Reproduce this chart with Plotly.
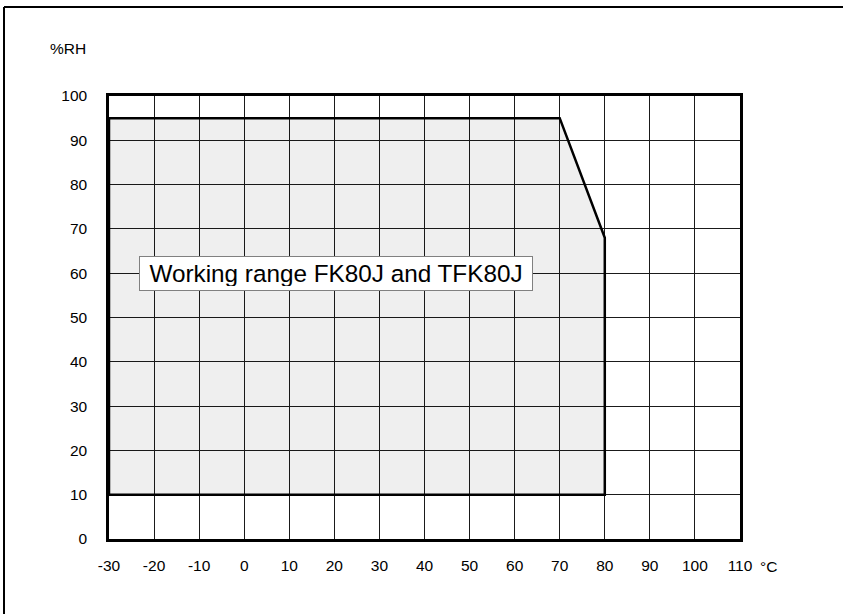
import plotly.graph_objects as go

# Working range boundary (temperature °C, relative humidity %RH)
range_temp = [-30, 70, 80, 80, -30, -30]
range_rh = [95, 95, 68, 10, 10, 95]

x_ticks = list(range(-30, 111, 10))
y_ticks = list(range(0, 101, 10))

label_text = "Working range FK80J and TFK80J"
label_x = 20.4
label_y = 59.9

FONT = "Liberation Sans, Arial, sans-serif"

fig = go.Figure()
fig.add_trace(go.Scatter(
    x=range_temp, y=range_rh, mode="lines", fill="toself",
    fillcolor="rgba(0,0,0,0.063)",
    line=dict(color="black", width=2.5), hoverinfo="skip", showlegend=False,
))

fig.add_annotation(
    x=label_x, y=label_y, xref="x", yref="y", text=label_text, showarrow=False,
    font=dict(family=FONT, size=24.3, color="black"),
    bgcolor="white", bordercolor="#808080", borderwidth=1, borderpad=4,
    width=384, height=25,
)
fig.add_annotation(
    x=-0.033, y=1.108, xref="paper", yref="paper", text="%RH", showarrow=False,
    xanchor="right", yanchor="middle", font=dict(family=FONT, size=15.5, color="black"),
)
fig.add_annotation(
    x=1.028, y=-0.062, xref="paper", yref="paper", text="°C", showarrow=False,
    xanchor="left", yanchor="middle", font=dict(family=FONT, size=15.5, color="black"),
)

# outer frame (top and left edges)
fig.add_shape(type="line", xref="paper", yref="paper", x0=-0.1664, x1=1.2,
              y0=1.2009, y1=1.2009, line=dict(color="black", width=2))
fig.add_shape(type="line", xref="paper", yref="paper", x0=-0.1664, x1=-0.1664,
              y0=1.2009, y1=-0.2, line=dict(color="black", width=2))

axis_common = dict(
    showgrid=True, gridcolor="#1a1a1a", gridwidth=1,
    showline=True, linecolor="black", linewidth=2.5, mirror=True,
    zeroline=False, ticks="", tickfont=dict(family=FONT, size=15.5, color="black"),
    fixedrange=True,
)
fig.update_xaxes(range=[-30, 110], tickvals=x_ticks, ticktext=[str(v) for v in x_ticks],
                 ticklabelstandoff=11, **axis_common)
fig.update_yaxes(range=[0, 100], tickvals=y_ticks, ticktext=[str(v) for v in y_ticks],
                 ticklabelstandoff=16, **axis_common)

fig.update_layout(
    width=843, height=614,
    margin=dict(l=109, r=103, t=96, b=75),
    paper_bgcolor="white", plot_bgcolor="white",
    showlegend=False,
)

fig.write_html("out.html", config={"displayModeBar": False},
               post_script="document.body.style.margin='0';document.body.style.overflow='hidden';")
